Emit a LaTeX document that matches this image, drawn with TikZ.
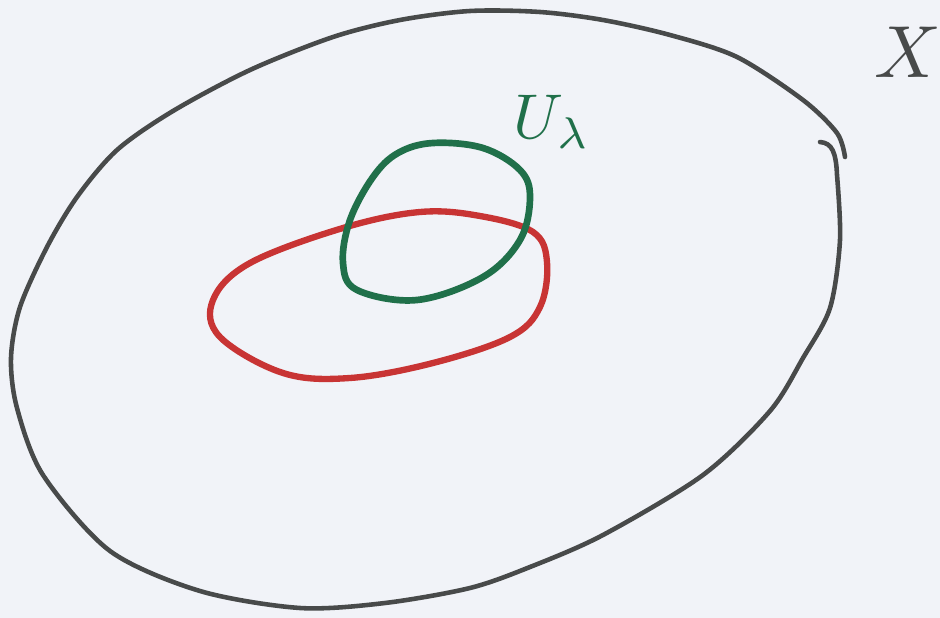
\documentclass[tikz,border=0pt]{standalone}
\usepackage{xcolor}
\usepackage{graphicx}
\usepackage{tikz}
\usepackage{amsmath,amssymb}
\usetikzlibrary{arrows.meta,positioning,calc}
\definecolor{skPaper} {RGB}{241,243,248}
\definecolor{skGrey}  {RGB}{ 72, 74, 74}
\definecolor{skGreen} {RGB}{ 32,112, 74}
\definecolor{skRed}   {RGB}{200, 52, 52}

\begin{document}
\begin{tikzpicture}[
  x=0.02cm, y=-0.02cm,
  spacecurve/.style={draw=skGrey,line width=2.6pt,line cap=round,line join=round},
  greenloop/.style={draw=skGreen,line width=3.8pt,line join=round},
  redloop/.style={draw=skRed,line width=3.6pt,line join=round},
  setlabel/.style={inner sep=0pt},
]
\fill[skPaper] (0,0) rectangle (940,618);
\useasboundingbox (0,0) rectangle (940,618);
% outer space X, drawn as one open stroke
\draw[spacecurve] (820,142) .. controls (832,143) and (836,152) .. (837,175)
  plot[smooth,tension=0.5] coordinates {
  (837,175) (840,240) (830,308) (803,358) (770,411) (703,475) (603,535)
  (530,567) (470,588) (385,603) (300,608) (200,591) (110,551) (43,475)
  (17,408) (11,358) (20,307) (47,247) (77,197) (117,150) (173,111)
  (250,70) (333,37) (400,20) (470,11) (540,12) (603,20) (670,35)
  (737,57) (803,100) (837,133) (845,157)};
% red set
\draw[redloop] plot[smooth cycle,tension=0.6] coordinates {
  (250,263) (343,228) (420,212) (480,216) (533,232) (547,262) (540,307)
  (510,337) (433,363) (350,378) (283,373) (220,337) (213,300)};
% open set U_lambda
\draw[greenloop] plot[smooth cycle,tension=0.6] coordinates {
  (398,153) (433,143) (483,148) (520,170) (530,197) (520,240) (483,277)
  (417,300) (357,290) (343,263) (350,220) (373,177)};
\node[setlabel,text=skGreen] (labelU) at (552,122) {\scalebox{3.6}{$U_\lambda$}};
\node[setlabel,text=skGrey] (labelX) at (908,52) {\scalebox{4.2}{$X$}};
\end{tikzpicture}
\end{document}
